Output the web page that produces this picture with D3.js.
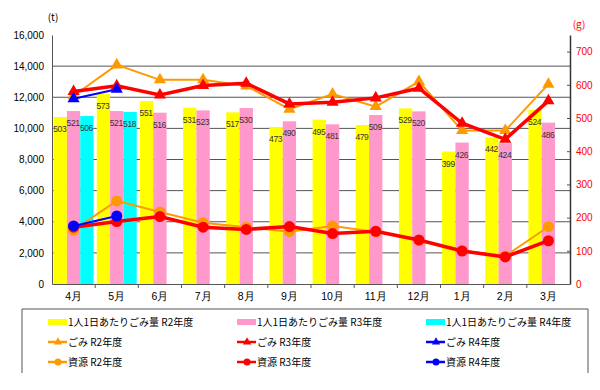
<!DOCTYPE html>
<html><head><meta charset="utf-8">
<script src="https://cdn.jsdelivr.net/npm/d3@7"></script>
<style>
body{margin:0;background:#fff;}
svg{display:block;font-family:"Noto Sans CJK JP","Liberation Sans",sans-serif;}
</style></head>
<body><svg id="c" width="600" height="390"></svg>
<script>
const months = ['4月','5月','6月','7月','8月','9月','10月','11月','12月','1月','2月','3月'];
const leftTicks = [0,2000,4000,6000,8000,10000,12000,14000,16000];
const rightTicks = [0,100,200,300,400,500,600,700];
const perCapR2 = [503,573,551,531,517,473,495,479,529,399,442,524];
const perCapR3 = [521,521,516,523,530,490,481,509,520,426,424,486];
const perCapR4 = [506,518];
const gomiR2 = [12100,14080,13120,13120,12730,11230,12200,11400,13010,9860,9860,12840];
const gomiR3 = [12370,12730,12150,12750,12900,11570,11680,11960,12580,10330,9300,11770];
const gomiR4 = [11900,12520];
const shigenR2 = [3470,5340,4630,3940,3650,3360,3730,3350,2800,2150,1800,3680];
const shigenR3 = [3650,4010,4330,3650,3510,3690,3240,3390,2830,2120,1740,2780];
const shigenR4 = [3730,4370];

const barSeries = [
  {key:'R2', name:'1人1日あたりごみ量 R2年度', color:'#FFFF00', values:perCapR2},
  {key:'R3', name:'1人1日あたりごみ量 R3年度', color:'#FF99CC', values:perCapR3},
  {key:'R4', name:'1人1日あたりごみ量 R4年度', color:'#00FFFF', values:perCapR4}
];
const lineSeries = [
  {name:'ごみ R2年度', color:'#FF9900', values:gomiR2, marker:'tri', w:2},
  {name:'ごみ R3年度', color:'#FF0000', values:gomiR3, marker:'tri', w:3.5},
  {name:'ごみ R4年度', color:'#0000FF', values:gomiR4, marker:'tri', w:2},
  {name:'資源 R2年度', color:'#FF9900', values:shigenR2, marker:'circ', w:2},
  {name:'資源 R3年度', color:'#FF0000', values:shigenR3, marker:'circ', w:3.5},
  {name:'資源 R4年度', color:'#0000FF', values:shigenR4, marker:'circ', w:2}
];

const svg = d3.select('#c');
const L=52, R=570, T=35, B=284;
const x = d3.scaleBand().domain(months).range([L,R]);
const xs = d3.scaleBand().domain(['R2','R3','R4']).range([0,x.bandwidth()]).paddingOuter(0.12);
const yL = d3.scaleLinear().domain([0,16000]).range([B,T]);
const yR = d3.scaleLinear().domain([0,750]).range([B,T]);

// gridlines
svg.append('g').selectAll('line').data(leftTicks.filter(t=>t>0&&t<16000)).join('line')
  .attr('x1',L).attr('x2',R).attr('y1',d=>yL(d)).attr('y2',d=>yL(d))
  .attr('stroke','#555').attr('stroke-width',1);

// bars
const gb = svg.append('g');
barSeries.forEach(s=>{
  gb.selectAll(null).data(s.values.map((v,i)=>({v,m:months[i]}))).join('rect')
    .attr('x',d=>x(d.m)+xs(s.key)).attr('width',xs.bandwidth())
    .attr('y',d=>yR(d.v)).attr('height',d=>B-yR(d.v)).attr('fill',s.color);
});
barSeries.forEach(s=>{
  gb.selectAll(null).data(s.values.map((v,i)=>({v,m:months[i]}))).join('text')
    .attr('x',d=>x(d.m)+xs(s.key)+xs.bandwidth()/2-0.5).attr('y',d=>yR(d.v)+15)
    .attr('text-anchor','middle').attr('font-size',8.5).attr('letter-spacing',-0.4).attr('fill','#333')
    .attr('font-family','Liberation Sans, sans-serif')
    .text(d=>d.v);
});

// axes
const axL = svg.append('g').attr('transform',`translate(${L},0)`)
  .call(d3.axisLeft(yL).tickValues(leftTicks).tickSize(0).tickPadding(8).tickFormat(d3.format(',')));
axL.select('.domain').attr('stroke','#555');
axL.selectAll('text').attr('font-size',10).attr('fill','#000').attr('font-family','Liberation Sans, sans-serif');

const axR = svg.append('g').attr('transform',`translate(${R},0)`)
  .call(d3.axisRight(yR).tickValues(rightTicks).tickSize(0).tickPadding(6));
axR.select('.domain').attr('stroke','#333').attr('stroke-width',1.5);
axR.selectAll('text').attr('font-size',10).attr('fill','#FF0000').attr('font-family','Liberation Sans, sans-serif');
axR.selectAll('.tick').append('line').attr('x1',-3).attr('x2',0).attr('stroke','#555');

const axB = svg.append('g').attr('transform',`translate(0,${B})`)
  .call(d3.axisBottom(x).tickSize(0).tickPadding(9));
axB.select('.domain').attr('stroke','#555');
axB.selectAll('text').attr('font-size',10.5).attr('fill','#000');
svg.append('g').selectAll('line').data(months.slice(1)).join('line')
  .attr('x1',d=>x(d)).attr('x2',d=>x(d)).attr('y1',B).attr('y2',B+4).attr('stroke','#555');

svg.append('text').attr('x',53).attr('y',21).attr('text-anchor','middle').attr('font-size',10).text('(t)');
svg.append('text').attr('x',579).attr('y',28).attr('text-anchor','middle').attr('font-size',10).attr('fill','#FF0000').text('(g)');

// lines
const triPath = d3.symbol(d3.symbolTriangle, 64)();
lineSeries.forEach(s=>{
  const pts = s.values.map((v,i)=>[x(months[i])+x.bandwidth()/2, yL(v)]);
  svg.append('path').attr('d',d3.line()(pts)).attr('fill','none')
    .attr('stroke',s.color).attr('stroke-width',s.w);
  const g = svg.append('g');
  pts.forEach(p=>{
    if(s.marker==='tri'){
      g.append('path').attr('d',triPath).attr('transform',`translate(${p[0]},${p[1]})`).attr('fill',s.color);
    } else {
      g.append('circle').attr('cx',p[0]).attr('cy',p[1]).attr('r',5.5).attr('fill',s.color);
    }
  });
});

// legend
const lg = svg.append('g');
lg.append('path').attr('d','M22,373V309H588V373').attr('fill','none').attr('stroke','#555');
const colX=[48,237,426], rowY=[322,342,362];
barSeries.forEach((s,i)=>{
  lg.append('rect').attr('x',colX[i]).attr('y',rowY[0]-3).attr('width',19).attr('height',6).attr('fill',s.color);
  lg.append('text').attr('x',colX[i]+20).attr('y',rowY[0]).attr('dy','0.35em').attr('font-size',10).text(s.name);
});
lineSeries.forEach((s,i)=>{
  const cx=colX[i%3], cy=rowY[1+Math.floor(i/3)];
  lg.append('line').attr('x1',cx).attr('x2',cx+19).attr('y1',cy).attr('y2',cy).attr('stroke',s.color).attr('stroke-width',2.5);
  if(s.marker==='tri') lg.append('path').attr('d',d3.symbol(d3.symbolTriangle,30)()).attr('transform',`translate(${cx+10},${cy})`).attr('fill',s.color);
  else lg.append('circle').attr('cx',cx+10).attr('cy',cy).attr('r',3.5).attr('fill',s.color);
  lg.append('text').attr('x',cx+20).attr('y',cy).attr('dy','0.35em').attr('font-size',10).text(s.name);
});
</script></body></html>
